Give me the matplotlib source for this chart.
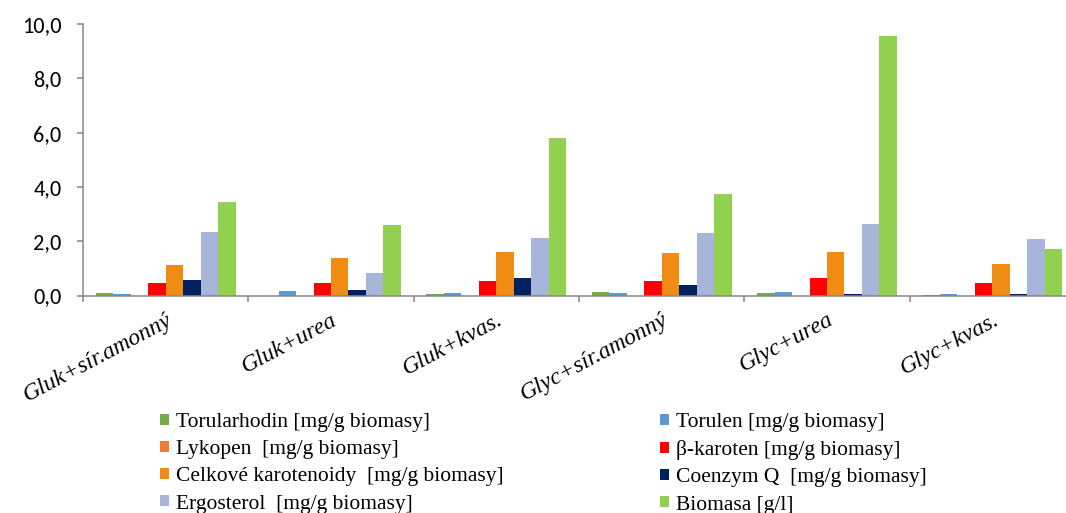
import matplotlib
matplotlib.use("Agg")
import matplotlib.pyplot as plt
from matplotlib.patches import Patch
from matplotlib.ticker import FixedLocator, NullFormatter
import numpy as np

# Culture media (carbon + nitrogen source)
categories = ["Gluk+sír.amonný", "Gluk+urea", "Gluk+kvas.",
              "Glyc+sír.amonný", "Glyc+urea", "Glyc+kvas."]

# Measured quantities per medium
torularhodin = [0.08, 0.00, 0.05, 0.14, 0.10, 0.03]
torulen = [0.05, 0.15, 0.10, 0.08, 0.14, 0.06]
lykopen = [0.00, 0.00, 0.00, 0.00, 0.00, 0.00]
beta_karoten = [0.46, 0.47, 0.53, 0.52, 0.64, 0.46]
celkove_karotenoidy = [1.13, 1.38, 1.60, 1.57, 1.60, 1.17]
coenzym_q = [0.57, 0.19, 0.65, 0.37, 0.05, 0.05]
ergosterol = [2.35, 0.83, 2.10, 2.32, 2.65, 2.08]
biomasa = [3.44, 2.59, 5.79, 3.74, 9.55, 1.72]

series_labels = [
    "Torularhodin [mg/g biomasy]",
    "Torulen [mg/g biomasy]",
    "Lykopen  [mg/g biomasy]",
    "β-karoten [mg/g biomasy]",
    "Celkové karotenoidy  [mg/g biomasy]",
    "Coenzym Q  [mg/g biomasy]",
    "Ergosterol  [mg/g biomasy]",
    "Biomasa [g/l]",
]
series_values = [torularhodin, torulen, lykopen, beta_karoten,
                 celkove_karotenoidy, coenzym_q, ergosterol, biomasa]
series_colors = ["#70AD47", "#5B9BD5", "#ED7D31", "#FF0000",
                 "#F08C14", "#002060", "#A7B5DB", "#92D050"]

y_ticks = [0, 2, 4, 6, 8, 10]
y_tick_labels = ["0,0", "2,0", "4,0", "6,0", "8,0", "10,0"]

plt.rcParams["font.family"] = ["Liberation Serif", "DejaVu Serif"]

W, H = 1066, 513
fig = plt.figure(figsize=(W / 100, H / 100), dpi=100)
left_px, right_px, bottom_px, top_px = 83, 1075, 295.5, 24
ax = fig.add_axes([left_px / W, 1 - bottom_px / H,
                   (right_px - left_px) / W, (bottom_px - top_px) / H])

n_series = len(series_values)
bar_w = 0.1058
offset = (1 - n_series * bar_w) / 2
x0 = np.arange(len(categories))
for k, (vals, col, lab) in enumerate(zip(series_values, series_colors, series_labels)):
    ax.bar(x0 + offset + (k + 0.5) * bar_w, vals, width=bar_w,
           color=col, label=lab, linewidth=0)

ax.set_xlim(0, len(categories))
ax.set_ylim(0, 10)

axis_gray = "#868686"
for side in ["top", "right"]:
    ax.spines[side].set_visible(False)
for side in ["left", "bottom"]:
    ax.spines[side].set_color(axis_gray)
    ax.spines[side].set_linewidth(1.1)

# y axis
ax.set_yticks(y_ticks, labels=y_tick_labels, fontfamily="Carlito", fontsize=16)
ax.tick_params(axis="y", direction="out", length=4.5, width=1.1, color=axis_gray,
               pad=11, labelcolor="black")

# x axis: boundary ticks, labels at category centres
ax.xaxis.set_major_locator(FixedLocator(np.arange(len(categories) + 1)))
ax.xaxis.set_major_formatter(NullFormatter())
ax.tick_params(axis="x", which="major", direction="out", length=4.5, width=1.1,
               color=axis_gray)
ax.set_xticks(x0 + 0.5, labels=categories, minor=True,
              fontfamily="Liberation Serif", fontstyle="italic", fontsize=17,
              rotation=28, ha="right", va="top", rotation_mode="anchor")
ax.tick_params(axis="x", which="minor", length=0, pad=10)

# legend in two columns, filled row by row
handles = [Patch(facecolor=c, edgecolor="none") for c in series_colors]
legend_kw = dict(frameon=False, handlelength=0.42, handleheight=0.42,
                 handletextpad=0.3, labelspacing=0.38, borderpad=0, borderaxespad=0,
                 loc="upper left", prop={"family": "Liberation Serif", "size": 15.5})
fig.legend(handles[0::2], series_labels[0::2],
           bbox_to_anchor=(160 / W, 1 - 413 / H), **legend_kw)
fig.legend(handles[1::2], series_labels[1::2],
           bbox_to_anchor=(660 / W, 1 - 413 / H), **legend_kw)

fig.savefig("out.png", dpi=100)
